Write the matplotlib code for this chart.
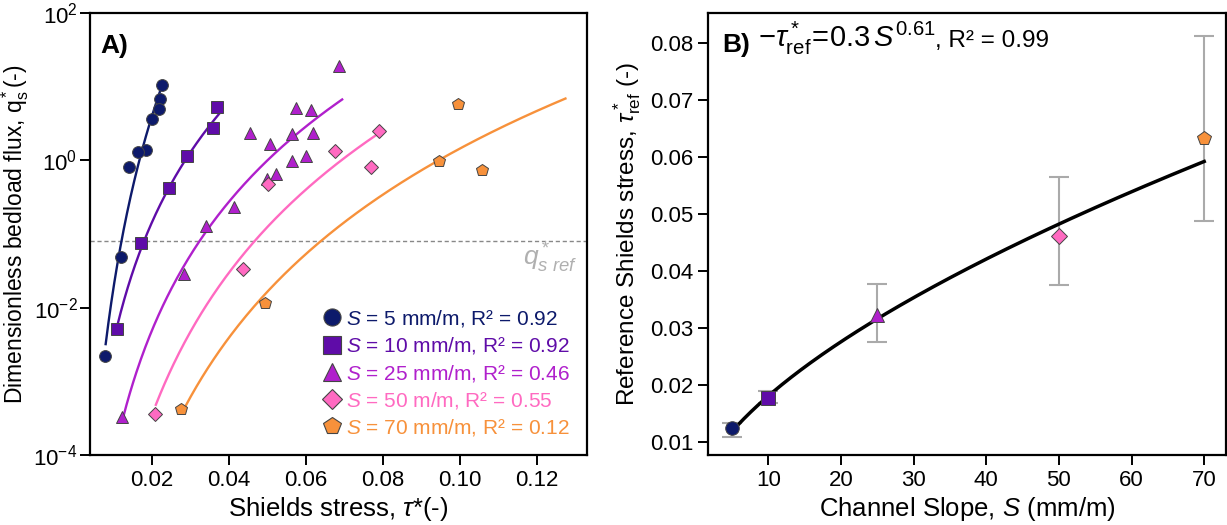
import numpy as np
import matplotlib
matplotlib.use("Agg")
import matplotlib.pyplot as plt

plt.rcParams['font.family'] = ['Liberation Sans', 'DejaVu Sans']
plt.rcParams['mathtext.fontset'] = 'custom'
plt.rcParams['mathtext.rm'] = 'Liberation Sans'
plt.rcParams['mathtext.it'] = 'Liberation Sans:italic'
plt.rcParams['mathtext.bf'] = 'Liberation Sans:bold'

# ---- panel A data: Shields stress vs dimensionless bedload flux ----
tau_s5 = [0.0227, 0.0222, 0.0218, 0.0200, 0.0184, 0.0163, 0.0141, 0.0119, 0.0079]
qs_s5 = [10.4, 6.8, 4.9, 3.6, 1.39, 1.30, 0.81, 0.048, 0.0022]

tau_s10 = [0.0369, 0.0358, 0.0292, 0.0243, 0.0171, 0.0108]
qs_s10 = [5.3, 2.74, 1.14, 0.417, 0.075, 0.0052]

tau_s25 = [0.0687, 0.0573, 0.0614, 0.0454, 0.0564, 0.0618, 0.0506, 0.0564,
           0.0599, 0.0523, 0.0500, 0.0414, 0.0341, 0.0283, 0.0123]
qs_s25 = [19.2, 5.08, 4.81, 2.37, 2.25, 2.32, 1.66, 0.98,
          1.14, 0.66, 0.557, 0.23, 0.13, 0.029, 3.3e-4]

tau_s50 = [0.0789, 0.0675, 0.0769, 0.0502, 0.0437, 0.0209]
qs_s50 = [2.47, 1.35, 0.80, 0.48, 0.034, 3.6e-4]

tau_s70 = [0.0994, 0.0945, 0.1057, 0.0494, 0.0275]
qs_s70 = [5.9, 0.98, 0.74, 0.0115, 4.2e-4]

# fitted curves (power law between endpoints)
fit_tau_start = [0.00797, 0.0111, 0.01255, 0.0210, 0.0286]
fit_tau_end = [0.0223, 0.0374, 0.0694, 0.0785, 0.1274]
fit_q_start = [0.0032, 0.0060, 3.3e-4, 4.8e-4, 4.5e-4]
fit_q_end = [9.3, 4.25, 6.7, 2.25, 6.9]

qs_ref = 0.08

labels = ["$S$ = 5 mm/m, R² = 0.92", "$S$ = 10 mm/m, R² = 0.92",
          "$S$ = 25 mm/m, R² = 0.46", "$S$ = 50 m/m, R² = 0.55",
          "$S$ = 70 mm/m, R² = 0.12"]
colors = ["#0D1A6B", "#5F0CA8", "#B020CC", "#FF6AC1", "#F7913B"]
markers = ["o", "s", "^", "D", "p"]
msizes = [8.5, 8.5, 9, 7, 9]

# ---- panel B data: reference Shields stress vs slope ----
slope = [5, 10, 25, 50, 70]
tau_ref = [0.0124, 0.0178, 0.0323, 0.0462, 0.0633]
tau_ref_lo = [0.0108, 0.0169, 0.0276, 0.0375, 0.0488]
tau_ref_hi = [0.0133, 0.0190, 0.0377, 0.0565, 0.0812]
fit_a, fit_b = 0.3, 0.61

fig = plt.figure(figsize=(12.27, 5.25), dpi=100)
axA = fig.add_axes([90 / 1227, 70 / 525, 497 / 1227, 442 / 525])
axB = fig.add_axes([708 / 1227, 70 / 525, 518 / 1227, 442 / 525])

tau_data = [tau_s5, tau_s10, tau_s25, tau_s50, tau_s70]
qs_data = [qs_s5, qs_s10, qs_s25, qs_s50, qs_s70]

for i in range(5):
    t = np.linspace(fit_tau_start[i], fit_tau_end[i], 200)
    b = np.log(fit_q_end[i] / fit_q_start[i]) / np.log(fit_tau_end[i] / fit_tau_start[i])
    axA.plot(t, fit_q_start[i] * (t / fit_tau_start[i]) ** b, color=colors[i], lw=1.7, zorder=2)

for i in range(5):
    axA.plot(tau_data[i], qs_data[i], linestyle="none", marker=markers[i],
             ms=msizes[i], mfc=colors[i], mec="#444444", mew=0.7, zorder=3)

axA.axhline(qs_ref, color="#888888", lw=1, ls=(0, (3, 2)), zorder=1)
axA.text(0.1305, 0.047, r"$q^*_{s\ ref}$", color="#B0B0B0", fontsize=19,
         ha="right", va="center")

axA.set_yscale("log")
axA.set_xlim(0.0039, 0.133)
axA.set_ylim(1e-4, 1e2)
axA.set_xticks([0.02, 0.04, 0.06, 0.08, 0.10, 0.12])
axA.set_xticklabels(["0.02", "0.04", "0.06", "0.08", "0.10", "0.12"])
axA.set_yticks([1e-4, 1e-2, 1e0, 1e2])
axA.set_yticklabels(["10$^{-4}$", "10$^{-2}$", "10$^{0}$", "10$^{2}$"])
axA.minorticks_off()
axA.set_xlabel(r"Shields stress, $\tau$*(-)", fontsize=18.5, labelpad=3)
axA.set_ylabel("Dimensionless bedload flux, q$^*_{\\rm s}$(-)", fontsize=16.5, labelpad=2)
axA.text(0.02, 0.925, "A)", transform=axA.transAxes, fontsize=19,
         fontweight="bold", va="center")

leg_handles = []
for i in range(5):
    h, = axA.plot([], [], linestyle="none", marker=markers[i], ms=msizes[i] * 1.45,
                  mfc=colors[i], mec="#444444", mew=0.8)
    leg_handles.append(h)
axA.legend(leg_handles, labels, loc="lower right", bbox_to_anchor=(0.99, 0.01),
           frameon=False, fontsize=15, labelcolor=colors, handletextpad=0.15,
           handlelength=1.0, labelspacing=0.3, borderaxespad=0.2)

# panel B
s_line = np.linspace(5, 70, 200)
axB.plot(s_line, fit_a * (s_line / 1000) ** fit_b, color="black", lw=2.5, zorder=2)
for i in range(5):
    axB.errorbar(slope[i], tau_ref[i],
                 yerr=[[tau_ref[i] - tau_ref_lo[i]], [tau_ref_hi[i] - tau_ref[i]]],
                 fmt="none", ecolor="#AAAAAA", elinewidth=1.5, capsize=7, capthick=1.5,
                 zorder=1)
    axB.plot(slope[i], tau_ref[i], linestyle="none", marker=markers[i], ms=msizes[i] * 1.15,
             mfc=colors[i], mec="#444444", mew=0.7, zorder=3)

axB.set_xlim(1.7, 73)
axB.set_ylim(0.00772, 0.0853)
axB.set_xticks([10, 20, 30, 40, 50, 60, 70])
axB.set_yticks([0.01, 0.02, 0.03, 0.04, 0.05, 0.06, 0.07, 0.08])
axB.set_xlabel("Channel Slope, $S$ (mm/m)", fontsize=18.5, labelpad=3)
axB.set_ylabel(r"Reference Shields stress, $\tau^*_{\rm ref}$ (-)", fontsize=17.5, labelpad=5)

t1 = axB.text(0.027, 0.912, "B)", transform=axB.transAxes, fontsize=19,
              fontweight="bold", va="baseline")
t2 = axB.annotate(r" $-\tau^*_{\rm ref}\!=\!0.3\,S^{0.61}$", xycoords=t1, xy=(1, 0),
                  va="bottom", fontsize=21)
axB.annotate(", R² = 0.99", xycoords=t2, xy=(1, 0), va="bottom", fontsize=17.5,
             xytext=(0, 3.5), textcoords="offset points")

for ax in (axA, axB):
    for sp in ax.spines.values():
        sp.set_linewidth(1.6)
    ax.tick_params(axis="both", labelsize=16, length=7, width=1.4, direction="out")
    ax.tick_params(top=False, right=False)
axA.tick_params(axis="y", pad=2)

fig.savefig("out.png", dpi=100)
